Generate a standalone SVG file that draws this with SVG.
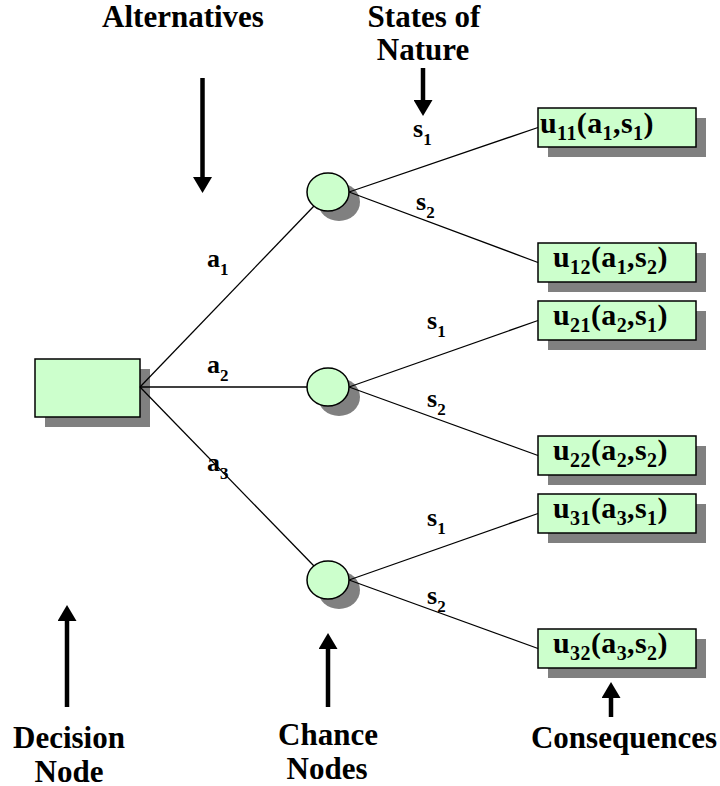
<svg xmlns="http://www.w3.org/2000/svg" width="720" height="786" viewBox="0 0 720 786" font-family="'Liberation Serif', 'Times New Roman', 'DejaVu Serif', serif">
<style>
text{font-family:'Liberation Serif','Times New Roman','DejaVu Serif',serif;font-weight:700;fill:#000}
.title{font-size:31px;text-anchor:middle}
.lbl{font-size:30px;letter-spacing:0.4px}
.lbl .sub{font-size:20px}
.el{font-size:26px}
.el .sub{font-size:17px}
.shadow{fill:#808080;stroke:none}
.node{fill:#CCFFCC;stroke:#000;stroke-width:1.5}
.edge{stroke:#000;stroke-width:1.3;fill:none}
.ann{stroke:#000;stroke-width:4.5;fill:none;marker-end:url(#head)}
</style>
<defs>
<marker id="head" viewBox="0 0 16 19" refX="2" refY="9.5" markerWidth="16" markerHeight="19" markerUnits="userSpaceOnUse" orient="auto">
<path d="M0,0 L16,9.5 L0,19 Z" fill="#000"/>
</marker>
</defs>

<g id="decision-node">
<rect class="shadow" x="45" y="369" width="105" height="58"/>
<rect class="node" x="35" y="359" width="105" height="58"/>
</g>

<g id="chance-node-1">
<ellipse class="shadow" cx="339" cy="202" rx="21" ry="19"/>
<ellipse class="node" cx="328" cy="192" rx="21" ry="19"/>
</g>
<g id="chance-node-2">
<ellipse class="shadow" cx="339" cy="397" rx="21" ry="19"/>
<ellipse class="node" cx="328" cy="387" rx="21" ry="19"/>
</g>
<g id="chance-node-3">
<ellipse class="shadow" cx="339" cy="590" rx="21" ry="19"/>
<ellipse class="node" cx="328" cy="580" rx="21" ry="19"/>
</g>

<g id="consequence-u11">
<rect class="shadow" x="548" y="118" width="158" height="39"/>
<rect class="node" x="538" y="108" width="158" height="39"/>
<text class="lbl" x="540" y="133">u<tspan class="sub" dy="7">11</tspan><tspan dy="-7">(a</tspan><tspan class="sub" dy="7">1</tspan><tspan dy="-7">,s</tspan><tspan class="sub" dy="7">1</tspan><tspan dy="-7">)</tspan></text>
</g>
<g id="consequence-u12">
<rect class="shadow" x="548" y="253" width="158" height="39"/>
<rect class="node" x="538" y="243" width="158" height="39"/>
<text class="lbl" x="553" y="267">u<tspan class="sub" dy="7">12</tspan><tspan dy="-7">(a</tspan><tspan class="sub" dy="7">1</tspan><tspan dy="-7">,s</tspan><tspan class="sub" dy="7">2</tspan><tspan dy="-7">)</tspan></text>
</g>
<g id="consequence-u21">
<rect class="shadow" x="548" y="311" width="158" height="39"/>
<rect class="node" x="538" y="301" width="158" height="39"/>
<text class="lbl" x="553" y="325">u<tspan class="sub" dy="7">21</tspan><tspan dy="-7">(a</tspan><tspan class="sub" dy="7">2</tspan><tspan dy="-7">,s</tspan><tspan class="sub" dy="7">1</tspan><tspan dy="-7">)</tspan></text>
</g>
<g id="consequence-u22">
<rect class="shadow" x="548" y="446" width="158" height="39"/>
<rect class="node" x="538" y="436" width="158" height="39"/>
<text class="lbl" x="553" y="460">u<tspan class="sub" dy="7">22</tspan><tspan dy="-7">(a</tspan><tspan class="sub" dy="7">2</tspan><tspan dy="-7">,s</tspan><tspan class="sub" dy="7">2</tspan><tspan dy="-7">)</tspan></text>
</g>
<g id="consequence-u31">
<rect class="shadow" x="548" y="504" width="158" height="39"/>
<rect class="node" x="538" y="494" width="158" height="39"/>
<text class="lbl" x="553" y="518">u<tspan class="sub" dy="7">31</tspan><tspan dy="-7">(a</tspan><tspan class="sub" dy="7">3</tspan><tspan dy="-7">,s</tspan><tspan class="sub" dy="7">1</tspan><tspan dy="-7">)</tspan></text>
</g>
<g id="consequence-u32">
<rect class="shadow" x="548" y="639" width="158" height="39"/>
<rect class="node" x="538" y="629" width="158" height="39"/>
<text class="lbl" x="553" y="653">u<tspan class="sub" dy="7">32</tspan><tspan dy="-7">(a</tspan><tspan class="sub" dy="7">3</tspan><tspan dy="-7">,s</tspan><tspan class="sub" dy="7">2</tspan><tspan dy="-7">)</tspan></text>
</g>

<g id="connectors">
<line class="edge" x1="140" y1="387" x2="314" y2="206"/>
<line class="edge" x1="140" y1="387" x2="307" y2="387"/>
<line class="edge" x1="140" y1="387" x2="314" y2="566"/>
<line class="edge" x1="349" y1="192" x2="538" y2="127.5"/>
<line class="edge" x1="349" y1="192" x2="538" y2="262.5"/>
<line class="edge" x1="349" y1="387" x2="538" y2="320.5"/>
<line class="edge" x1="349" y1="387" x2="538" y2="455.5"/>
<line class="edge" x1="349" y1="580" x2="538" y2="513.5"/>
<line class="edge" x1="349" y1="580" x2="538" y2="648.5"/>
<text class="el" x="207" y="267">a<tspan class="sub" dy="8">1</tspan></text>
<text class="el" x="207" y="373">a<tspan class="sub" dy="8">2</tspan></text>
<text class="el" x="207" y="471">a<tspan class="sub" dy="8">3</tspan></text>
<text class="el" x="413" y="137">s<tspan class="sub" dy="8">1</tspan></text>
<text class="el" x="416" y="210">s<tspan class="sub" dy="8">2</tspan></text>
<text class="el" x="427" y="329">s<tspan class="sub" dy="8">1</tspan></text>
<text class="el" x="427" y="407">s<tspan class="sub" dy="8">2</tspan></text>
<text class="el" x="427" y="526">s<tspan class="sub" dy="8">1</tspan></text>
<text class="el" x="427" y="604">s<tspan class="sub" dy="8">2</tspan></text>
</g>

<g id="annotations">
<text class="title" x="183" y="27">Alternatives</text>
<line class="ann" x1="202.5" y1="78" x2="202.5" y2="179"/>
<text class="title" x="424" y="27">States of</text>
<text class="title" x="423" y="60">Nature</text>
<line class="ann" x1="423" y1="68" x2="423" y2="102"/>
<line class="ann" x1="67" y1="707" x2="67" y2="619"/>
<text class="title" x="69" y="748">Decision</text>
<text class="title" x="69" y="782">Node</text>
<line class="ann" x1="328" y1="707" x2="328" y2="647"/>
<text class="title" x="328" y="745">Chance</text>
<text class="title" x="327" y="779">Nodes</text>
<line class="ann" x1="611" y1="717" x2="611" y2="696"/>
<text class="title" x="624" y="748">Consequences</text>
</g>
</svg>
